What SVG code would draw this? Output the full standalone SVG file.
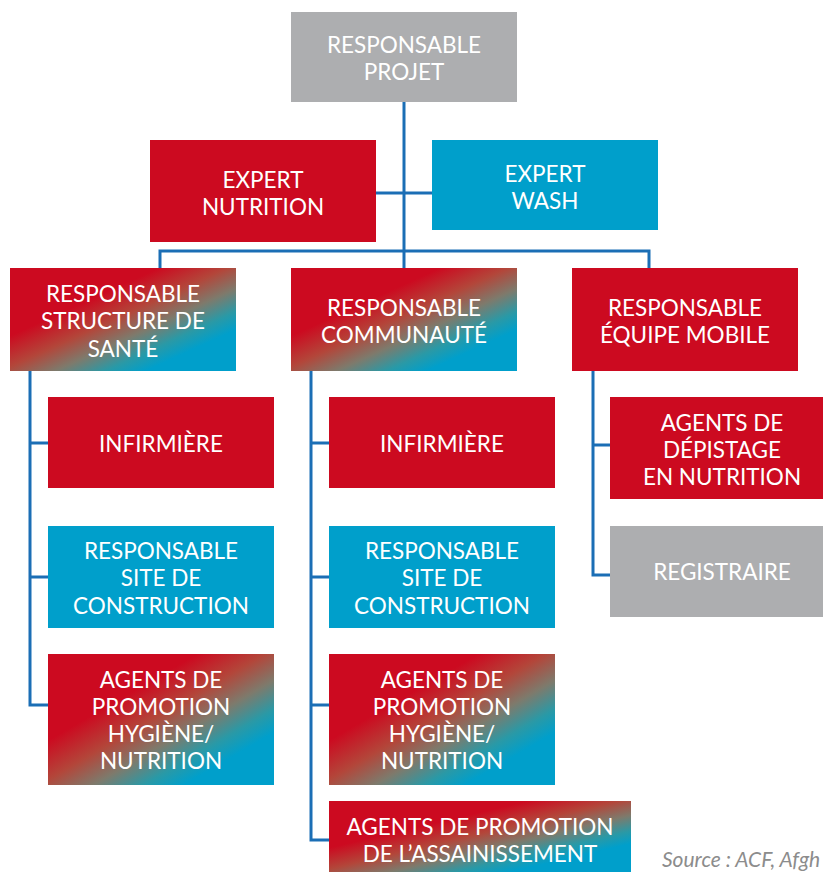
<svg xmlns="http://www.w3.org/2000/svg" width="823" height="872" viewBox="0 0 823 872">
<defs>
<linearGradient id="grad" x1="0" y1="0" x2="1" y2="1">
<stop offset="0.33" stop-color="#CC0A20"/>
<stop offset="0.48" stop-color="#B3463A"/>
<stop offset="0.6" stop-color="#7E7A6C"/>
<stop offset="0.71" stop-color="#2A99A6"/>
<stop offset="0.8" stop-color="#009FCB"/>
</linearGradient>
<style>
.red{fill:#CC0A20}
.blue{fill:#009FCB}
.gray{fill:#ADAEB0}
.grad{fill:url(#grad)}
text{font-family:Lato,"Open Sans","Liberation Sans",sans-serif;font-size:22.5px;fill:#fff;text-anchor:middle}
.conn{fill:none;stroke:#1B6EB5;stroke-width:3}
.src{font-style:italic;fill:#8C8C8C;font-size:21px;text-anchor:start}
</style>
</defs>
<g id="connectors">
<path class="conn" d="M404 102V268"/>
<path class="conn" d="M376 193H432"/>
<path class="conn" d="M160 268V251H649V268"/>
<path class="conn" d="M30 371V705H48M30 443H48M30 577H48"/>
<path class="conn" d="M311 371V840H329M311 443H329M311 577H329M311 705H329"/>
<path class="conn" d="M593 371V575H610M593 445H610"/>
</g>
<g id="n-projet"><rect class="gray" x="291" y="12" width="226" height="90"/><text x="404" y="53">RESPONSABLE</text><text x="404" y="80">PROJET</text></g>
<g id="n-expert-nutrition"><rect class="red" x="150" y="140" width="226" height="102"/><text x="263" y="188">EXPERT</text><text x="263" y="215">NUTRITION</text></g>
<g id="n-expert-wash"><rect class="blue" x="432" y="140" width="226" height="90"/><text x="545" y="182">EXPERT</text><text x="545" y="209">WASH</text></g>
<g id="n-structure"><rect class="grad" x="10" y="268" width="226" height="103"/><text x="123" y="302">RESPONSABLE</text><text x="123" y="329">STRUCTURE DE</text><text x="123" y="357">SANTÉ</text></g>
<g id="n-communaute"><rect class="grad" x="291" y="268" width="226" height="103"/><text x="404" y="316">RESPONSABLE</text><text x="404" y="343">COMMUNAUTÉ</text></g>
<g id="n-mobile"><rect class="red" x="572" y="268" width="226" height="103"/><text x="685" y="316">RESPONSABLE</text><text x="685" y="343">ÉQUIPE MOBILE</text></g>
<g id="n-inf1"><rect class="red" x="48" y="397" width="226" height="91"/><text x="161" y="452">INFIRMIÈRE</text></g>
<g id="n-site1"><rect class="blue" x="48" y="526" width="226" height="102"/><text x="161" y="559">RESPONSABLE</text><text x="161" y="586">SITE DE</text><text x="161" y="614">CONSTRUCTION</text></g>
<g id="n-agents1"><rect class="grad" x="48" y="654" width="226" height="131"/><text x="161" y="688">AGENTS DE</text><text x="161" y="715">PROMOTION</text><text x="161" y="742">HYGIÈNE/</text><text x="161" y="769">NUTRITION</text></g>
<g id="n-inf2"><rect class="red" x="329" y="397" width="226" height="91"/><text x="442" y="452">INFIRMIÈRE</text></g>
<g id="n-site2"><rect class="blue" x="329" y="526" width="226" height="102"/><text x="442" y="559">RESPONSABLE</text><text x="442" y="586">SITE DE</text><text x="442" y="614">CONSTRUCTION</text></g>
<g id="n-agents2"><rect class="grad" x="329" y="654" width="226" height="131"/><text x="442" y="688">AGENTS DE</text><text x="442" y="715">PROMOTION</text><text x="442" y="742">HYGIÈNE/</text><text x="442" y="769">NUTRITION</text></g>
<g id="n-assain"><rect class="grad" x="329" y="801" width="302" height="71"/><text x="480" y="835">AGENTS DE PROMOTION</text><text x="480" y="862">DE L’ASSAINISSEMENT</text></g>
<g id="n-depistage"><rect class="red" x="610" y="397" width="213" height="102"/><text x="722" y="431">AGENTS DE</text><text x="722" y="458">DÉPISTAGE</text><text x="722" y="485">EN NUTRITION</text></g>
<g id="n-registraire"><rect class="gray" x="610" y="526" width="213" height="91"/><text x="722" y="580">REGISTRAIRE</text></g>
<text class="src" x="662" y="867">Source : ACF, Afgh</text>
</svg>
